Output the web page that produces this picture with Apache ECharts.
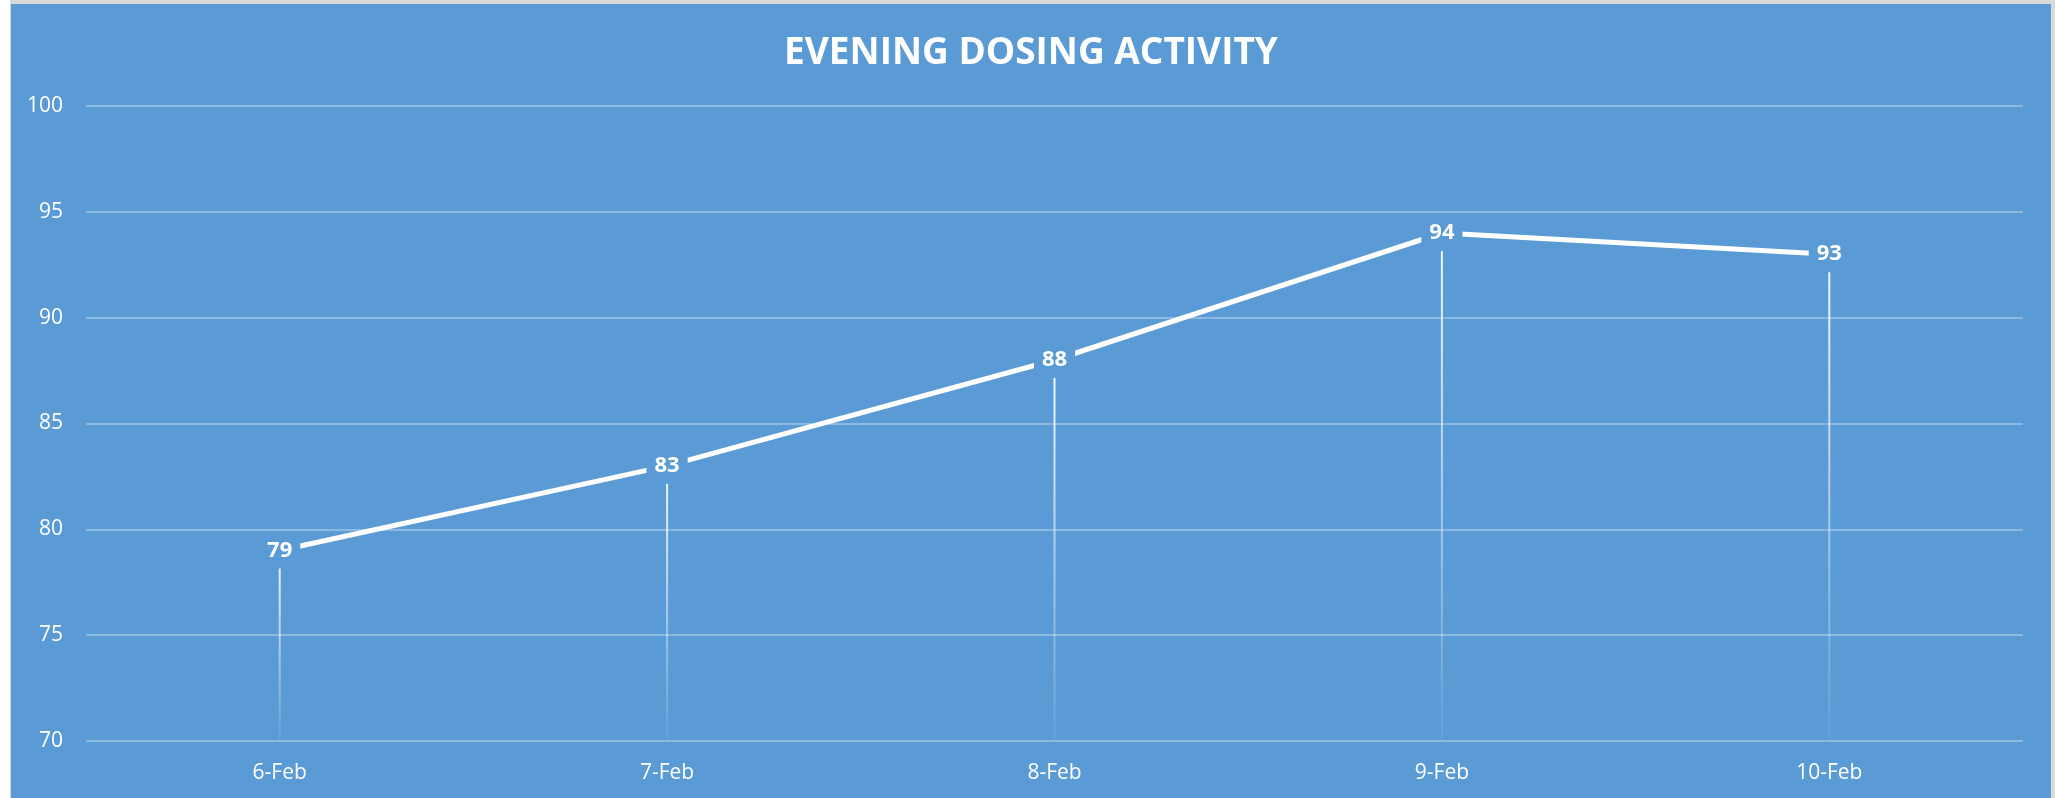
<!DOCTYPE html>
<html>
<head>
<meta charset="utf-8">
<script src="https://cdn.jsdelivr.net/npm/echarts@6/dist/echarts.min.js"></script>
<style>
    html, body { margin: 0; padding: 0; background: #fff; }
    .frame {
        position: absolute; left: 10px; top: 0; width: 2045px; height: 798px;
        background: #d9d9d9;
    }
    #main {
        position: absolute; left: 1px; top: 4px; width: 2040px; height: 794px;
    }
</style>
</head>
<body>
<div class="frame"><div id="main"></div></div>
<script>
    // 数据
    const days = ['6-Feb', '7-Feb', '8-Feb', '9-Feb', '10-Feb'];
    const dosing = [79, 83, 88, 94, 93];
    const yTicks = { min: 70, max: 100, step: 5 };

    const myChart = echarts.init(document.getElementById('main'));
    const bg = '#5B9BD5';
    const font = '"Open Sans", Lato, sans-serif';

    const option = {
        backgroundColor: bg,
        animation: false,
        title: {
            text: 'EVENING DOSING ACTIVITY',
            left: 'center',
            top: 26,
            textStyle: {
                color: '#fff',
                fontFamily: font,
                fontWeight: 'bold',
                fontSize: 37
            }
        },
        grid: { left: 75, right: 28, top: 102, bottom: 57 },
        xAxis: {
            type: 'category',
            data: days,
            axisLine: { show: false },
            axisTick: { show: false },
            axisLabel: { color: '#fff', fontSize: 21, fontFamily: font, margin: 22 }
        },
        yAxis: {
            type: 'value',
            min: yTicks.min,
            max: yTicks.max,
            interval: yTicks.step,
            axisLine: { show: false },
            axisTick: { show: false },
            axisLabel: { color: '#fff', fontSize: 21, fontFamily: font, margin: 23 },
            splitLine: { lineStyle: { color: 'rgba(255,255,255,0.3)', width: 2 } }
        },
        series: [
            {
                // 垂直引线
                type: 'bar',
                data: dosing,
                barWidth: 2,
                silent: true,
                itemStyle: {
                    color: new echarts.graphic.LinearGradient(0, 0, 0, 1, [
                        { offset: 0, color: 'rgba(255,255,255,0.95)' },
                        { offset: 1, color: 'rgba(255,255,255,0.05)' }
                    ])
                },
                z: 1
            },
            {
                type: 'line',
                data: dosing,
                symbol: 'circle',
                symbolSize: 1,
                itemStyle: { color: '#fff' },
                lineStyle: { color: '#fff', width: 5 },
                label: {
                    show: true,
                    position: 'inside',
                    color: '#fff',
                    fontFamily: font,
                    fontWeight: 'bold',
                    fontSize: 22,
                    backgroundColor: bg,
                    padding: [7, 8]
                },
                z: 3
            }
        ]
    };
    myChart.setOption(option);
</script>
</body>
</html>
